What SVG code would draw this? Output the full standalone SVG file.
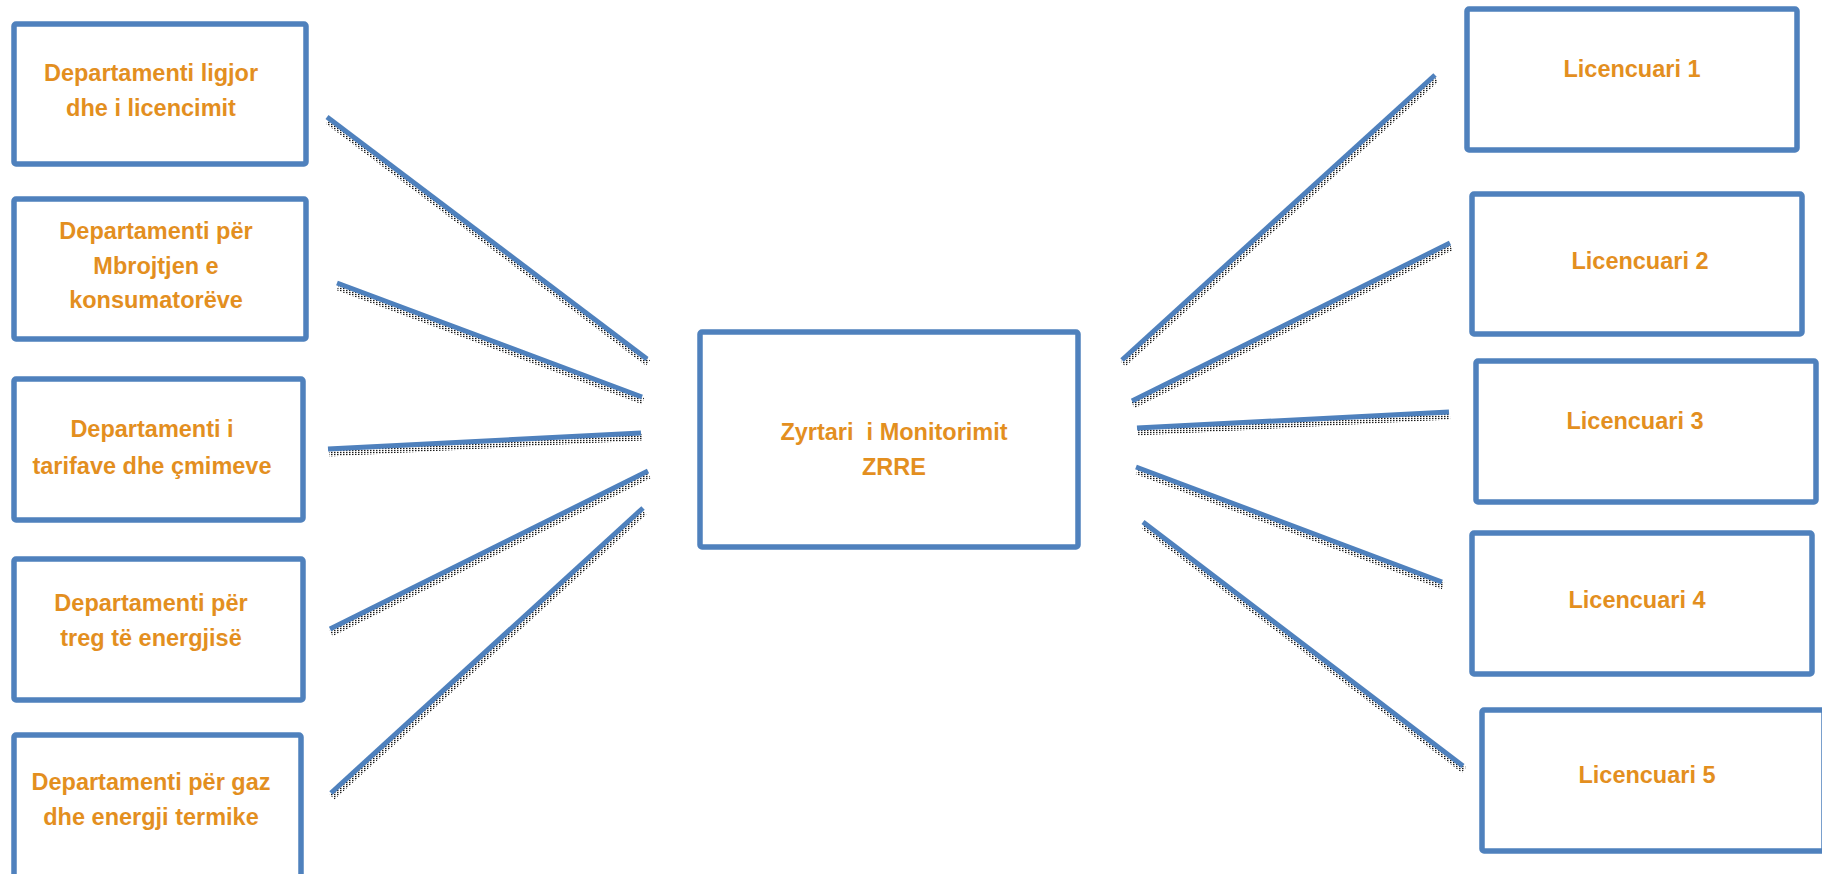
<svg xmlns="http://www.w3.org/2000/svg" width="1822" height="874" viewBox="0 0 1822 874">
  <defs>
    <pattern id="dots" width="3" height="2" patternUnits="userSpaceOnUse">
      <rect x="0" y="0" width="1.5" height="1.2" fill="#000"/>
    </pattern>
    <style>
      .box { fill: #fff; stroke: #4F81BD; stroke-width: 5.5; stroke-linejoin: round; }
      .lbl { font-family: "Liberation Sans", Arial, sans-serif; font-weight: bold; font-size: 23.5px; fill: #E38F1F; text-anchor: middle; }
      .ln { stroke: #4F81BD; stroke-width: 5; fill: none; stroke-linecap: butt; }
      .sh { stroke: url(#dots); stroke-width: 7; fill: none; opacity: 0.9; }
    </style>
  </defs>
  <rect width="1822" height="874" fill="#fff"/>

  <g id="connectors">
    <g transform="translate(1,4)">
      <line class="sh" x1="327" y1="117" x2="647" y2="359"/>
      <line class="sh" x1="337" y1="283" x2="642" y2="397"/>
      <line class="sh" x1="328" y1="449" x2="641" y2="433"/>
      <line class="sh" x1="330" y1="629" x2="648" y2="471"/>
      <line class="sh" x1="331" y1="793" x2="643" y2="508"/>
      <line class="sh" x1="1122" y1="360" x2="1435" y2="75"/>
      <line class="sh" x1="1132" y1="401" x2="1450" y2="243"/>
      <line class="sh" x1="1137" y1="428" x2="1449" y2="412"/>
      <line class="sh" x1="1136" y1="467" x2="1442" y2="582"/>
      <line class="sh" x1="1143" y1="522" x2="1463" y2="766"/>
    </g>
    <line class="ln" x1="327" y1="117" x2="647" y2="359"/>
    <line class="ln" x1="337" y1="283" x2="642" y2="397"/>
    <line class="ln" x1="328" y1="449" x2="641" y2="433"/>
    <line class="ln" x1="330" y1="629" x2="648" y2="471"/>
    <line class="ln" x1="331" y1="793" x2="643" y2="508"/>
    <line class="ln" x1="1122" y1="360" x2="1435" y2="75"/>
    <line class="ln" x1="1132" y1="401" x2="1450" y2="243"/>
    <line class="ln" x1="1137" y1="428" x2="1449" y2="412"/>
    <line class="ln" x1="1136" y1="467" x2="1442" y2="582"/>
    <line class="ln" x1="1143" y1="522" x2="1463" y2="766"/>
  </g>

  <g id="dept-ligjor">
    <rect class="box" x="14" y="24" width="292" height="140" rx="2"/>
    <text class="lbl" x="151" y="81">Departamenti ligjor</text>
    <text class="lbl" x="151" y="116">dhe i licencimit</text>
  </g>
  <g id="dept-mbrojtjen">
    <rect class="box" x="14" y="199" width="292" height="140" rx="2"/>
    <text class="lbl" x="156" y="239">Departamenti për</text>
    <text class="lbl" x="156" y="274">Mbrojtjen e</text>
    <text class="lbl" x="156" y="308">konsumatorëve</text>
  </g>
  <g id="dept-tarifave">
    <rect class="box" x="14" y="379" width="289" height="141" rx="2"/>
    <text class="lbl" x="152" y="437">Departamenti i</text>
    <text class="lbl" x="152" y="474">tarifave dhe çmimeve</text>
  </g>
  <g id="dept-treg">
    <rect class="box" x="14" y="559" width="289" height="141" rx="2"/>
    <text class="lbl" x="151" y="611">Departamenti për</text>
    <text class="lbl" x="151" y="646">treg të energjisë</text>
  </g>
  <g id="dept-gaz">
    <rect class="box" x="14" y="735" width="287" height="145" rx="2"/>
    <text class="lbl" x="151" y="790">Departamenti për gaz</text>
    <text class="lbl" x="151" y="825">dhe energji termike</text>
  </g>

  <g id="zyrtari">
    <rect class="box" x="700" y="332" width="378" height="215" rx="2"/>
    <text class="lbl" x="894" y="440" xml:space="preserve">Zyrtari  i Monitorimit</text>
    <text class="lbl" x="894" y="475">ZRRE</text>
  </g>

  <g id="licencuari-1">
    <rect class="box" x="1467" y="9" width="330" height="141" rx="2"/>
    <text class="lbl" x="1632" y="77">Licencuari 1</text>
  </g>
  <g id="licencuari-2">
    <rect class="box" x="1472" y="194" width="330" height="140" rx="2"/>
    <text class="lbl" x="1640" y="269">Licencuari 2</text>
  </g>
  <g id="licencuari-3">
    <rect class="box" x="1476" y="361" width="340" height="141" rx="2"/>
    <text class="lbl" x="1635" y="429">Licencuari 3</text>
  </g>
  <g id="licencuari-4">
    <rect class="box" x="1472" y="533" width="340" height="141" rx="2"/>
    <text class="lbl" x="1637" y="608">Licencuari 4</text>
  </g>
  <g id="licencuari-5">
    <rect class="box" x="1482" y="710" width="342" height="141" rx="2"/>
    <text class="lbl" x="1647" y="783">Licencuari 5</text>
  </g>
</svg>
